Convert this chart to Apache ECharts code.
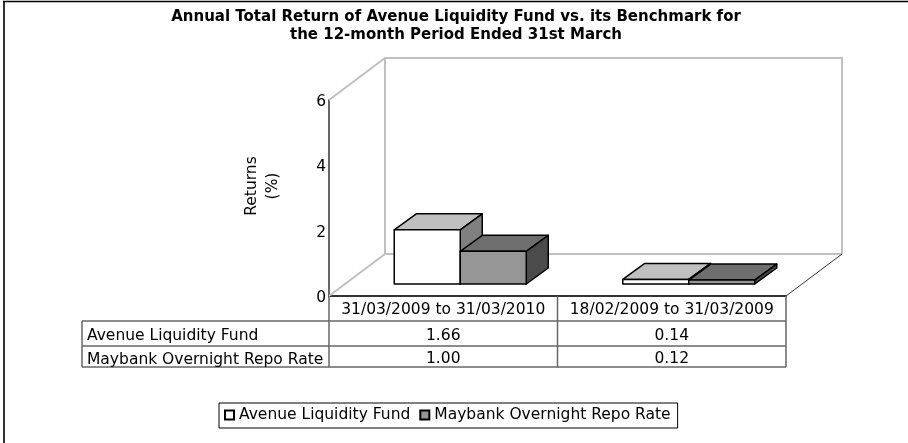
<!DOCTYPE html>
<html lang="en">
<head>
    <meta charset="UTF-8">
    <title>Annual Total Return of Avenue Liquidity Fund</title>
    <script src="https://cdn.jsdelivr.net/npm/echarts@6/dist/echarts.min.js"></script>
    <style>html, body { margin: 0; background: #fff; }</style>
</head>
<body>
    <div id="chart" style="width: 908px; height: 443px;"></div>

    <script>
        var titulo = 'Annual Total Return of Avenue Liquidity Fund vs. its Benchmark for\nthe 12-month Period Ended 31st March';
        var periodos = ['31/03/2009 to 31/03/2010', '18/02/2009 to 31/03/2009'];
        var nomeFundo = 'Avenue Liquidity Fund';
        var nomeRepo = 'Maybank Overnight Repo Rate';
        var valoresFundo = [1.66, 0.14];
        var valoresRepo = [1.00, 0.12];

        var fonte = '"DejaVu Sans", Verdana, sans-serif';
        var tamanho = 15.5;
        var esq = 329, topo = 100, larg = 457, alt = 196;
        var fundoX = 56, fundoY = 42;   // profundidade das paredes
        var barraX = 22, barraY = 16;   // profundidade das barras
        var recuoX = 17, recuoY = 12;   // barras recuadas no piso
        var largBarra = 66;

        function barra3d(deslocamento, frente, cima, lado) {
            return function (params, api) {
                var base = api.coord([api.value(0), 0]);
                var pico = api.coord([api.value(0), api.value(1)]);
                var x0 = base[0] + deslocamento * largBarra + recuoX;
                var x1 = x0 + largBarra;
                var yb = base[1] - recuoY;
                var yt = pico[1] - recuoY;
                var traco = { stroke: '#000', lineWidth: 1.5, lineJoin: 'round' };
                return {
                    type: 'group',
                    children: [
                        { type: 'polygon', shape: { points: [[x0, yt], [x0 + barraX, yt - barraY], [x1 + barraX, yt - barraY], [x1, yt]] }, style: Object.assign({ fill: cima }, traco) },
                        { type: 'polygon', shape: { points: [[x1, yt], [x1 + barraX, yt - barraY], [x1 + barraX, yb - barraY], [x1, yb]] }, style: Object.assign({ fill: lado }, traco) },
                        { type: 'rect', shape: { x: x0, y: yt, width: largBarra, height: yb - yt }, style: Object.assign({ fill: frente }, traco) }
                    ]
                };
            };
        }

        function paredes(params, api) {
            var c = params.coordSys;
            var x0 = c.x, x1 = c.x + c.width, yT = c.y, yB = c.y + c.height;
            var cinza = { stroke: '#c0c0c0', lineWidth: 2, fill: 'none' };
            return {
                type: 'group',
                children: [
                    { type: 'polyline', shape: { points: [[x0, yT], [x0 + fundoX, yT - fundoY], [x1 + fundoX, yT - fundoY], [x1 + fundoX, yB - fundoY]] }, style: cinza, silent: true },
                    { type: 'polyline', shape: { points: [[x0, yB], [x0 + fundoX, yB - fundoY], [x1 + fundoX, yB - fundoY]] }, style: cinza, silent: true },
                    { type: 'line', shape: { x1: x0 + fundoX, y1: yT - fundoY, x2: x0 + fundoX, y2: yB - fundoY }, style: cinza, silent: true },
                    { type: 'line', shape: { x1: x1, y1: yB, x2: x1 + fundoX, y2: yB - fundoY }, style: { stroke: '#333', lineWidth: 1 }, silent: true }
                ]
            };
        }

        function linha(x1, y1, x2, y2, cor, esp) {
            return { type: 'line', z: 5, shape: { x1: x1, y1: y1, x2: x2, y2: y2 }, style: { stroke: cor || '#666', lineWidth: esp || 1.5 } };
        }

        function texto(t, x, y, alinhar) {
            return { type: 'text', z: 6, x: x, y: y, style: { text: t, font: tamanho + 'px ' + fonte, fill: '#000', textAlign: alinhar || 'center', textVerticalAlign: 'middle' } };
        }

        function tabela() {
            var meio = esq + larg / 2, dir = esq + larg;
            var y1 = 321, y2 = 346, y3 = 367;
            var els = [
                linha(82, y1, dir, y1), linha(82, y2, dir, y2), linha(82, y3, dir, y3),
                linha(82, y1, 82, y3), linha(esq, topo + alt, esq, y3),
                linha(meio, topo + alt, meio, y3), linha(dir, topo + alt, dir, y3),
                texto(nomeFundo, 87, 336, 'left'), texto(nomeRepo, 87, 360, 'left')
            ];
            periodos.forEach(function (p, i) {
                var cx = esq + larg * (i + 0.5) / 2;
                els.push(texto(valoresFundo[i].toFixed(2), cx, 336));
                els.push(texto(valoresRepo[i].toFixed(2), cx, 359));
            });
            return els;
        }

        var moldura = [
            linha(4, 1, 4, 443, '#333', 2),
            linha(3, 1.5, 908, 1.5, '#000', 1.5)
        ];

        var rotuloY = {
            type: 'text', z: 6, x: 262.5, y: 186, rotation: Math.PI / 2,
            style: { text: 'Returns\n(%)', font: tamanho + 'px ' + fonte, fill: '#000', textAlign: 'center', textVerticalAlign: 'middle', lineHeight: 21 }
        };

        var chart = echarts.init(document.getElementById('chart'));

        chart.setOption({
            animation: false,
            backgroundColor: '#fff',
            title: {
                text: titulo,
                left: 451, top: 3, textAlign: 'center',
                textStyle: { fontFamily: fonte, fontSize: 15, fontWeight: 'bold', color: '#000', lineHeight: 18 }
            },
            legend: {
                left: 219, top: 403,
                data: [nomeFundo, nomeRepo],
                icon: 'rect', itemWidth: 9, itemHeight: 9, itemGap: 9,
                padding: [4, 7, 5, 5],
                borderColor: '#000', borderWidth: 1,
                textStyle: { fontFamily: fonte, fontSize: tamanho, color: '#000' },
                selectedMode: false
            },
            grid: { left: esq, top: topo, width: larg, height: alt },
            xAxis: {
                type: 'category',
                data: periodos,
                axisLine: { lineStyle: { color: '#333', width: 2 } },
                axisTick: { show: false },
                axisLabel: { fontFamily: fonte, fontSize: tamanho, color: '#000', margin: 6, interval: 0 }
            },
            yAxis: {
                type: 'value',
                min: 0, max: 6, interval: 2,
                splitLine: { show: false },
                axisLine: { show: true, lineStyle: { color: '#666', width: 2 } },
                axisTick: { show: false },
                axisLabel: { fontFamily: fonte, fontSize: tamanho, color: '#000', margin: 3, verticalAlign: 'top', lineHeight: 4 }
            },
            graphic: { elements: moldura.concat(tabela()).concat([rotuloY]) },
            series: [
                { type: 'custom', name: 'paredes', silent: true, z: 1, renderItem: paredes, data: [[0, 0]], clip: false },
                {
                    type: 'custom', name: nomeFundo, z: 2, clip: false,
                    itemStyle: { color: '#fff', borderColor: '#000', borderWidth: 1 },
                    encode: { x: 0, y: 1 },
                    renderItem: barra3d(-1, '#fff', '#c0c0c0', '#808080'),
                    data: valoresFundo.map(function (v, i) { return [i, v]; })
                },
                {
                    type: 'custom', name: nomeRepo, z: 3, clip: false,
                    itemStyle: { color: '#969696', borderColor: '#000', borderWidth: 1 },
                    encode: { x: 0, y: 1 },
                    renderItem: barra3d(0, '#969696', '#6e6e6e', '#4b4b4b'),
                    data: valoresRepo.map(function (v, i) { return [i, v]; })
                }
            ]
        });
    </script>
</body>
</html>
